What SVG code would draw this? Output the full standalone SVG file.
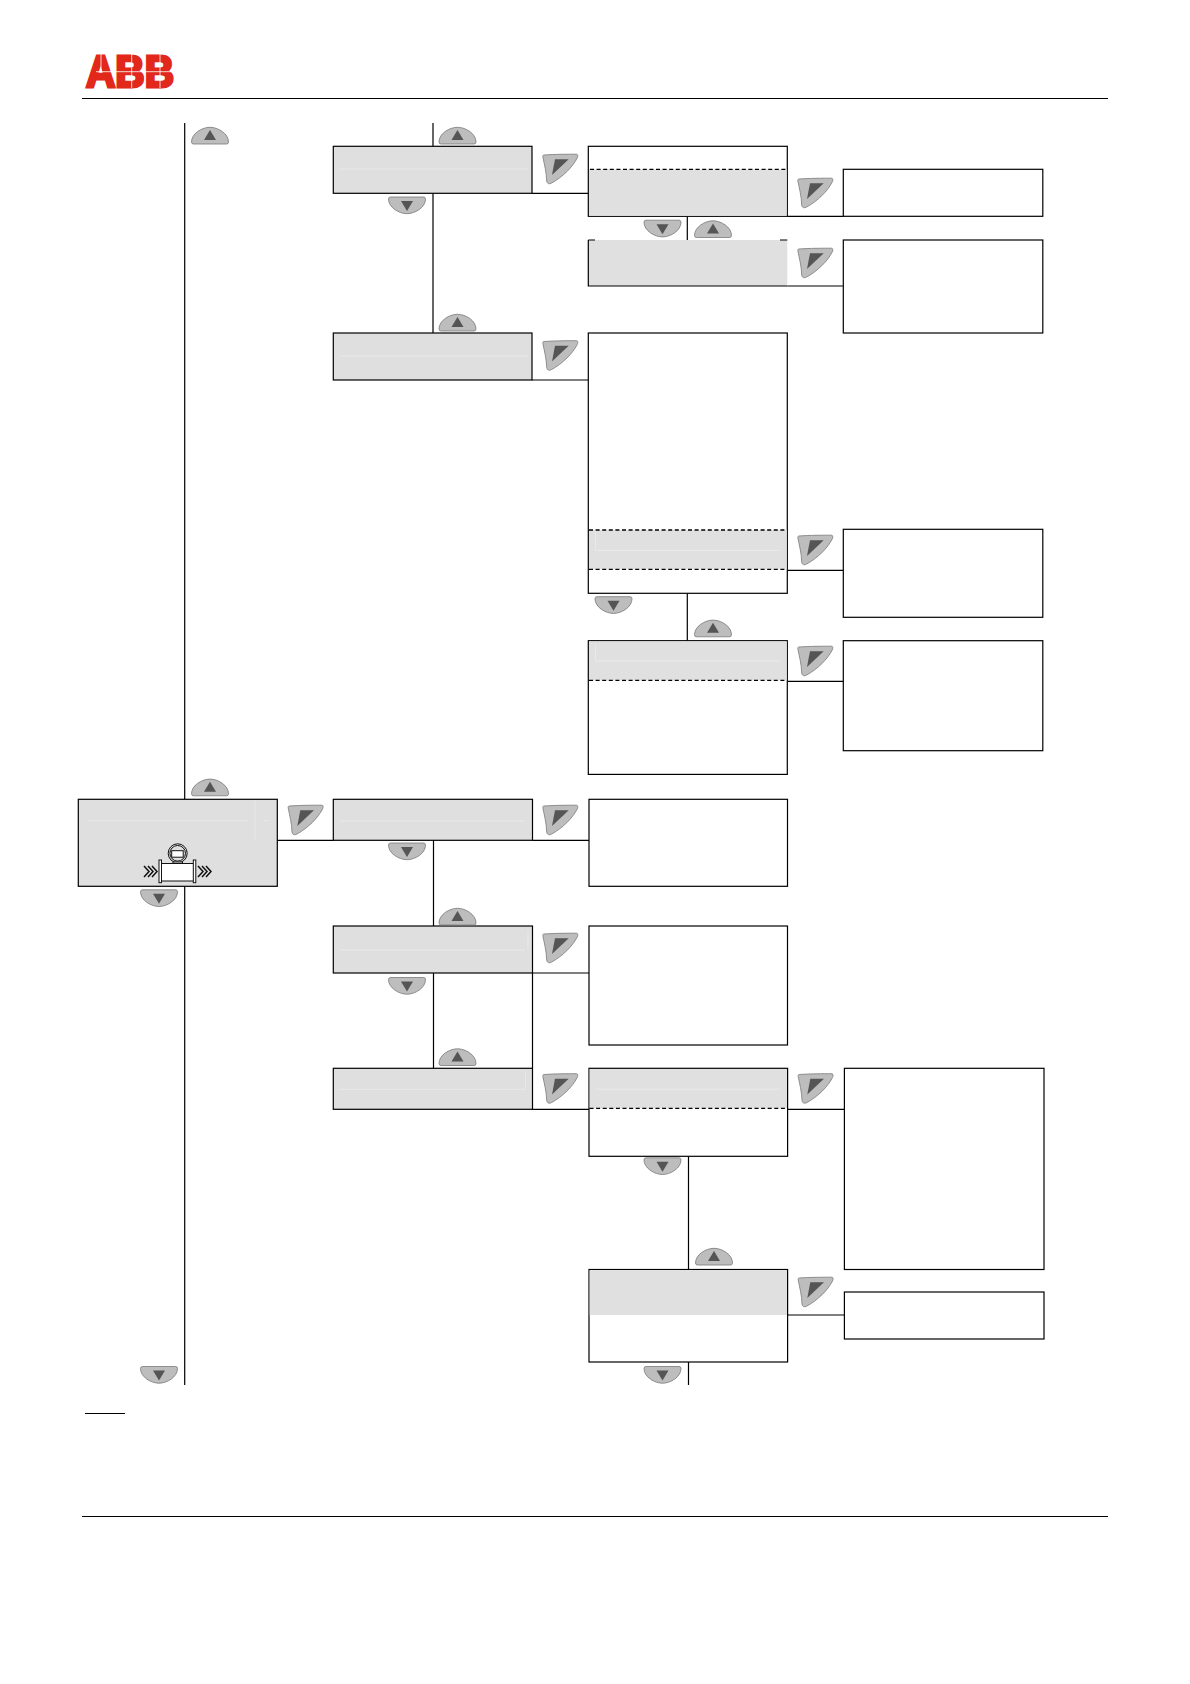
<svg xmlns="http://www.w3.org/2000/svg" xmlns:xlink="http://www.w3.org/1999/xlink" width="1190" height="1684" viewBox="0 0 1190 1684">
<style>
.box{fill:#fff;stroke:#000;stroke-width:1.2}
.gray{fill:#dfdfdf;stroke:#000;stroke-width:1.2}
.band{fill:#e0e0e0;stroke:none}
.dash{fill:none;stroke:#000;stroke-width:1.2;stroke-dasharray:4 2.6}
.glint{fill:none;stroke:#e9e9e9;stroke-width:1}
.con{fill:none;stroke:#000;stroke-width:1.2}
.rule{fill:none;stroke:#000;stroke-width:1.1}
.btn{fill:#bdbdbd;stroke:#7a7a7a;stroke-width:.8}
.tri{fill:#555}
.ic{fill:#fff;stroke:#111;stroke-width:1}
</style>
<defs>
<g id="up"><path class="btn" d="M-18.500 6.500C-18.500-2-8-8.200 0-8.200C8-8.200 18.500-2 18.500 6.500Q18.500 8.500 16.500 8.500H-16.500Q-18.500 8.500-18.500 6.500Z"/><path class="tri" d="M0-5.500L6 4.500H-6Z"/></g>
<g id="down"><path class="btn" d="M-18.500-6.500C-18.500 2-8 8.200 0 8.200C8 8.200 18.500 2 18.500-6.500Q18.500-8.500 16.500-8.500H-16.500Q-18.500-8.500-18.500-6.500Z"/><path class="tri" d="M0 5.500L6-4.500H-6Z"/></g>
<g id="press"><path class="btn" d="M1 1C12 .2 25 .2 34 .2C35.500 .5 35.300 2.500 34.500 4C30 13 20 23 9 29C6.500 30.300 4.500 30 4 27C3.800 18 1.500 10 .2 3C0 2 .2 1.200 1 1Z"/><path class="tri" d="M12.300 5.300H26L9.300 21Z"/></g>
<g id="chev" fill="none" stroke="#111" stroke-width="1.500"><path d="M0 0L5 5.500L0 11M4 0L9 5.500L4 11M8 0L13 5.500L8 11"/></g>
</defs>

<g id="logo">
<text x="86" y="86.500" textLength="88" lengthAdjust="spacingAndGlyphs" font-family="Liberation Sans, Arial, sans-serif" font-weight="700" font-size="43.500" fill="#e1281a" stroke="#e1281a" stroke-width="3">ABB</text>
<path d="M96 71.700H175M101 54V72M131.700 54V88M160 54V88" fill="none" stroke="#fff" stroke-width=".8"/>
</g>
<path id="header-rule" class="rule" d="M82 98.500H1108"/>
<path id="footer-rule" class="rule" d="M82 1516.500H1108"/>
<path id="note-rule" class="rule" d="M85 1413.500H125"/>

<g id="connectors">
<path class="con" d="M184.700 123V799.300M184.700 886.300V1385"/>
<path class="con" d="M433 123V146.300M433 193.300V333M433.500 840V926M433.500 973V1068.300M532.500 973V1068.300"/>
<path class="con" d="M532 193.300H588.300M787.300 216.300H843.300M787.300 286H843.300M532 380H588.300M787.300 570.300H843.300M787.300 681.300H843.300"/>
<path class="con" d="M277.300 840.300H333.300M532.500 840.300H589M532.500 973H589M532.500 1109.300H589M787.600 1109.300H844.400M787.600 1315H844.400"/>
<path class="con" d="M687.300 216.300V240M687.300 593.300V640.700M688.500 1156.300V1269.500M688.500 1362V1385"/>
</g>

<g id="node-a"><rect class="gray" x="333.300" y="146.300" width="198.700" height="47"/><path class="glint" d="M340 169H528"/></g>
<g id="node-b"><rect class="box" x="588.300" y="146.300" width="199" height="70"/><rect class="band" x="589" y="169.300" width="197.700" height="46.500"/><path class="dash" d="M590 169.300H787"/></g>
<g id="node-c"><rect class="band" x="588.300" y="240" width="199" height="46"/><path class="con" d="M588.300 240V286H787.300M588.300 240H595M780 240H787.300"/></g>
<g id="node-d"><rect class="box" x="843.300" y="169.300" width="199.500" height="47"/></g>
<g id="node-e"><rect class="box" x="843.300" y="240" width="199.500" height="93"/></g>
<g id="node-f"><rect class="gray" x="333.300" y="333" width="198.700" height="47"/><path class="glint" d="M340 356H528"/></g>
<g id="node-g"><rect class="box" x="588.300" y="333" width="199" height="260.300"/><rect class="band" x="589" y="530" width="197.700" height="39.300"/><path class="glint" d="M595.500 530V550.500H780"/><path class="dash" style="stroke-width:1.700" d="M589 530H787"/><path class="dash" d="M589 569.300H787"/></g>
<g id="node-h"><rect class="box" x="843.300" y="529.300" width="199.500" height="88"/></g>
<g id="node-i"><rect class="box" x="588.300" y="640.700" width="199" height="133.700"/><rect class="band" x="589" y="641.400" width="197.700" height="39"/><path class="glint" d="M595.500 644V661H780"/><path class="dash" d="M589 680.300H787"/></g>
<g id="node-j"><rect class="box" x="843.300" y="640.700" width="199.500" height="110"/></g>
<g id="node-main"><rect class="gray" x="78.300" y="799.300" width="199" height="87"/><path class="glint" d="M87 820.700H248M255 800V840M264 820.700H268"/>
<g id="flowmeter"><circle cx="177.700" cy="853.300" r="9.500" fill="none" stroke="#111" stroke-width="1"/><circle cx="177.700" cy="853.300" r="7.800" fill="none" stroke="#111" stroke-width="1"/><rect class="ic" x="171.700" y="850.700" width="11.500" height="6.500"/><rect class="ic" x="173" y="862" width="9.500" height="2.500"/><rect class="ic" x="160.700" y="863.500" width="33.300" height="17.500"/><rect class="ic" x="159" y="860" width="2.500" height="22.700"/><rect class="ic" x="193.300" y="860" width="2.500" height="22.700"/><use href="#chev" x="144" y="866"/><use href="#chev" x="198" y="866"/></g></g>
<g id="node-l"><rect class="gray" x="333.300" y="799.300" width="199.200" height="41"/><path class="glint" d="M340 821H525"/></g>
<g id="node-m"><rect class="box" x="589" y="799.300" width="198.500" height="87"/></g>
<g id="node-n"><rect class="gray" x="333.300" y="926" width="199.200" height="47"/><path class="glint" d="M340 950H525M528 930V950"/></g>
<g id="node-o"><rect class="box" x="589" y="926" width="198.500" height="119"/></g>
<g id="node-p"><rect class="gray" x="333.300" y="1068.300" width="199.200" height="41"/><path class="glint" d="M340 1089.300H525M525.500 1071V1089.300"/></g>
<g id="node-q"><rect class="box" x="589" y="1068.300" width="198.600" height="88"/><rect class="band" x="589.700" y="1069" width="197.200" height="39.300"/><path class="glint" d="M596 1089.300H780"/><path class="dash" d="M589.500 1108.300H788"/></g>
<g id="node-r"><rect class="box" x="844.400" y="1068.300" width="199.600" height="201.200"/></g>
<g id="node-s"><rect class="box" x="589" y="1269.500" width="198.600" height="92.500"/><rect class="band" x="589.700" y="1270.200" width="197.200" height="44.800"/></g>
<g id="node-t"><rect class="box" x="844.400" y="1292" width="199.600" height="47"/></g>

<g id="buttons">
<use href="#up" x="210" y="135.500"/>
<use href="#up" x="457.500" y="135.500"/>
<use href="#up" x="713" y="229"/>
<use href="#up" x="457.500" y="322.500"/>
<use href="#up" x="713" y="628.300"/>
<use href="#up" x="210" y="787.300"/>
<use href="#up" x="457.500" y="916.500"/>
<use href="#up" x="457.500" y="1057"/>
<use href="#up" x="714" y="1256.500"/>
<use href="#down" x="407" y="205.500"/>
<use href="#down" x="662.500" y="228.700"/>
<use href="#down" x="613.500" y="605.200"/>
<use href="#down" x="407" y="851.500"/>
<use href="#down" x="159" y="898.300"/>
<use href="#down" x="407" y="986"/>
<use href="#down" x="662.500" y="1166.300"/>
<use href="#down" x="159" y="1375"/>
<use href="#down" x="662.500" y="1375"/>
<use href="#press" x="542.700" y="154"/>
<use href="#press" x="797.700" y="178"/>
<use href="#press" x="797.700" y="248"/>
<use href="#press" x="542.700" y="340.500"/>
<use href="#press" x="797.700" y="535"/>
<use href="#press" x="797.700" y="646"/>
<use href="#press" x="288" y="805"/>
<use href="#press" x="542.700" y="805"/>
<use href="#press" x="542.700" y="933"/>
<use href="#press" x="542.700" y="1073.500"/>
<use href="#press" x="798" y="1073.500"/>
<use href="#press" x="798" y="1277"/>
</g>
</svg>
